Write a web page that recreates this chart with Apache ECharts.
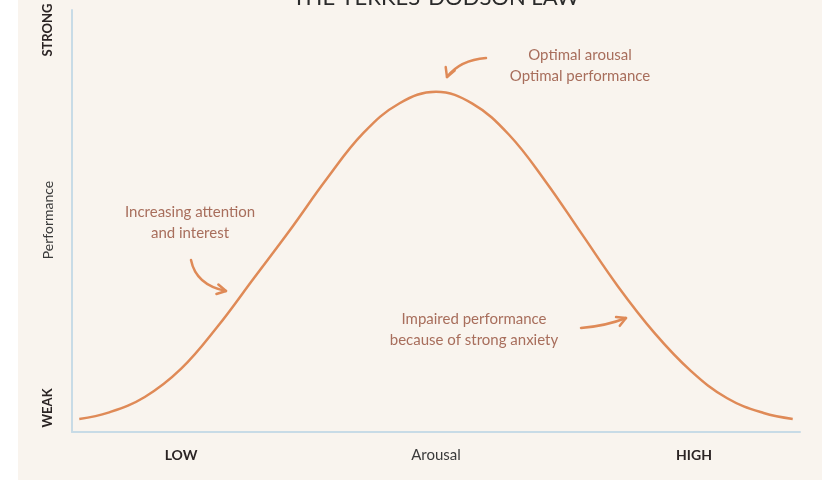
<!DOCTYPE html>
<html><head><meta charset="utf-8">
<script src="https://cdn.jsdelivr.net/npm/echarts@6/dist/echarts.min.js"></script>
<style>html,body{margin:0;padding:0;background:#fff}#c{width:840px;height:480px}</style>
</head><body><div id="c"></div>
<script>
const arousal = [1,5,10,15,20,25,30,35,40,45,50,55,60,65,70,75,80,85,90,95,99];
const performance = [3.1,4.6,8.3,15,25,36.5,48,60,70.8,77.9,80.6,77.8,70.5,59.5,47,34.5,23.5,14.5,8,4.5,3.1];
const xLabels = ['LOW','Arousal','HIGH'];
const yLabels = ['WEAK','Performance','STRONG'];
const title = 'THE YERKES-DODSON LAW';
const notes = ['Optimal arousal\nOptimal performance','Increasing attention\nand interest','Impaired performance\nbecause of strong anxiety'];

const F = 'Lato, "Open Sans", sans-serif';
const txtCol = '#a86e5c', curveCol = '#df8a57';
const chart = echarts.init(document.getElementById('c'));
function arrow(x1,y1,cx,cy,x2,y2,ang){
  const a=0.5, L=10;
  return [
    {type:'bezierCurve',shape:{x1,y1,x2,y2,cpx1:cx,cpy1:cy},style:{stroke:curveCol,lineWidth:2.5,fill:null,lineCap:'round'}},
    {type:'polyline',shape:{points:[[x2+L*Math.cos(ang+a),y2+L*Math.sin(ang+a)],[x2,y2],[x2+L*Math.cos(ang-a),y2+L*Math.sin(ang-a)]]},style:{stroke:curveCol,lineWidth:2.5,fill:null,lineCap:'round',lineJoin:'round'}}
  ];
}
chart.setOption({
  backgroundColor:'#ffffff',
  animation:false,
  grid:{left:72,right:40,top:10,bottom:48},
  xAxis:{type:'value',min:0,max:100,axisLine:{show:true,lineStyle:{color:'#c8dbe6',width:2}},axisTick:{show:false},axisLabel:{show:false},splitLine:{show:false}},
  yAxis:{type:'value',min:0,max:100,axisLine:{show:true,lineStyle:{color:'#c8dbe6',width:2}},axisTick:{show:false},axisLabel:{show:false},splitLine:{show:false}},
  series:[{type:'line',data:arousal.map((x,i)=>[x,performance[i]]),smooth:0.4,showSymbol:false,lineStyle:{color:curveCol,width:2.5},z:3}],
  graphic:[
    {type:'rect',z:-10,shape:{x:18,y:0,width:804,height:480},style:{fill:'#f9f4ee'}},
    {type:'text',x:436,y:-2,style:{text:title,font:'400 22px '+F,fill:'#2b2b2b',align:'center',verticalAlign:'middle'}},
    {type:'text',x:436,y:455,style:{text:xLabels[1],font:'15px '+F,fill:'#3a3a3a',align:'center',verticalAlign:'middle'}},
    {type:'text',x:181,y:455,style:{text:xLabels[0],font:'bold 14px '+F,fill:'#2b2424',align:'center',verticalAlign:'middle'}},
    {type:'text',x:694,y:455,style:{text:xLabels[2],font:'bold 14px '+F,fill:'#2b2424',align:'center',verticalAlign:'middle'}},
    {type:'text',x:48,y:408,rotation:Math.PI/2,style:{text:yLabels[0],font:'bold 13px '+F,fill:'#2b2424',align:'center',verticalAlign:'middle'}},
    {type:'text',x:48,y:220,rotation:Math.PI/2,style:{text:yLabels[1],font:'14px '+F,fill:'#3a3a3a',align:'center',verticalAlign:'middle'}},
    {type:'text',x:48,y:30,rotation:Math.PI/2,style:{text:yLabels[2],font:'bold 13px '+F,fill:'#2b2424',align:'center',verticalAlign:'middle'}},
    {type:'text',x:580,y:66,style:{text:notes[0],font:'15px '+F,fill:txtCol,align:'center',verticalAlign:'middle',lineHeight:21}},
    {type:'text',x:190,y:223,style:{text:notes[1],font:'15px '+F,fill:txtCol,align:'center',verticalAlign:'middle',lineHeight:21}},
    {type:'text',x:474,y:330,style:{text:notes[2],font:'15px '+F,fill:txtCol,align:'center',verticalAlign:'middle',lineHeight:21}},
    ...arrow(486,58,460,60,447,77,-1.2),
    ...arrow(191,260,196,285,226,291,Math.PI+0.2),
    ...arrow(581,328,606,326,626,318,Math.PI-0.4)
  ]
});
</script></body></html>
